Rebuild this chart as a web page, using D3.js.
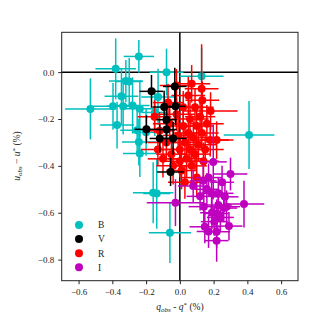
<!DOCTYPE html>
<html>
<head>
  <meta charset="utf-8">
  <script src="https://cdn.jsdelivr.net/npm/d3@7"></script>
  <style>
    body { margin: 0; background: white; }
    text { font-family: 'Liberation Serif', 'DejaVu Serif', serif; fill: #222; }
    .axis path, .axis line { stroke: #222; }
  </style>
</head>
<body>
<svg id="chart" width="324" height="324"></svg>
<script>
// series B
var bX = [-0.53, -0.38, -0.243, -0.079, -0.32, -0.30, -0.346, -0.396, -0.336, -0.28, -0.237, -0.372, -0.253, -0.243, -0.237, -0.129, 0.129, 0.41, -0.158, -0.137, -0.059, -0.2, -0.148];
var bY = [-0.157, 0.014, 0.067, 0.0, -0.038, -0.04, -0.103, -0.146, -0.146, -0.142, -0.156, -0.226, -0.248, -0.298, -0.347, -0.106, -0.018, -0.268, -0.515, -0.518, -0.685, -0.257, -0.172];
var bXErr = [0.15, 0.12, 0.09, 0.1, 0.1, 0.08, 0.1, 0.13, 0.1, 0.1, 0.1, 0.1, 0.1, 0.1, 0.1, 0.1, 0.13, 0.15, 0.12, 0.08, 0.125, 0.08, 0.08];
var bYErr = [0.13, 0.13, 0.07, 0.1, 0.09, 0.1, 0.12, 0.1, 0.12, 0.12, 0.12, 0.1, 0.1, 0.1, 0.1, 0.12, 0.12, 0.145, 0.13, 0.15, 0.13, 0.1, 0.1];

// series V
var vX = [-0.168, -0.03, -0.093, -0.026, -0.079, -0.198, -0.079, -0.119, -0.04, -0.055];
var vY = [-0.082, -0.061, -0.149, -0.146, -0.203, -0.244, -0.245, -0.283, -0.283, -0.426];
var vXErr = [0.07, 0.07, 0.07, 0.06, 0.06, 0.07, 0.06, 0.06, 0.08, 0.08];
var vYErr = [0.07, 0.08, 0.07, 0.08, 0.07, 0.06, 0.07, 0.06, 0.07, 0.06];

// series R
var rX = [0.129, 0.133, 0.182, 0.218, -0.02, -0.15, -0.12, -0.13, -0.1, -0.08, -0.06, -0.05, -0.04, -0.02, -0.01, 0.0, 0.01, 0.02, 0.02, 0.03, 0.04, 0.05, 0.05, 0.06, 0.06, 0.07, 0.08, 0.09, 0.09, 0.10, 0.11, 0.12, 0.13, 0.14, 0.15, 0.16, 0.18, 0.10, 0.03, -0.07, 0.0, 0.07];
var rY = [-0.071, -0.12, -0.166, -0.29, -0.057, -0.19, -0.25, -0.33, -0.37, -0.30, -0.22, -0.35, -0.40, -0.18, -0.27, -0.33, -0.42, -0.15, -0.23, -0.30, -0.37, -0.10, -0.26, -0.20, -0.33, -0.40, -0.28, -0.15, -0.35, -0.23, -0.31, -0.19, -0.26, -0.38, -0.33, -0.22, -0.29, -0.45, -0.47, -0.13, -0.38, -0.05];
var rXErr = [0.1, 0.1, 0.16, 0.1, 0.1, 0.1, 0.09, 0.1, 0.09, 0.11, 0.1, 0.09, 0.1, 0.11, 0.09, 0.1, 0.09, 0.12, 0.1, 0.09, 0.11, 0.1, 0.09, 0.11, 0.1, 0.09, 0.1, 0.11, 0.09, 0.1, 0.11, 0.09, 0.1, 0.09, 0.11, 0.1, 0.11, 0.09, 0.1, 0.09, 0.1, 0.11];
var rYErr = [0.19, 0.08, 0.08, 0.08, 0.07, 0.07, 0.08, 0.07, 0.08, 0.07, 0.08, 0.07, 0.08, 0.07, 0.08, 0.07, 0.08, 0.07, 0.08, 0.07, 0.08, 0.08, 0.07, 0.08, 0.07, 0.08, 0.07, 0.08, 0.07, 0.08, 0.07, 0.08, 0.07, 0.08, 0.07, 0.08, 0.07, 0.08, 0.07, 0.08, 0.07, 0.08];

// series I
var iX = [-0.026, 0.30, 0.38, 0.079, 0.198, 0.138, 0.188, 0.228, 0.267, 0.142, 0.228, 0.277, 0.218, 0.148, 0.291, 0.218, 0.218, 0.204, 0.16, 0.17, 0.25, 0.12, 0.19, 0.24, 0.17, 0.26];
var iY = [-0.557, -0.435, -0.563, -0.486, -0.383, -0.464, -0.517, -0.517, -0.532, -0.574, -0.567, -0.574, -0.603, -0.66, -0.657, -0.681, -0.719, -0.638, -0.50, -0.45, -0.47, -0.53, -0.60, -0.62, -0.68, -0.58];
var iXErr = [0.17, 0.1, 0.12, 0.09, 0.08, 0.08, 0.08, 0.09, 0.08, 0.09, 0.08, 0.08, 0.07, 0.09, 0.08, 0.08, 0.07, 0.08, 0.07, 0.08, 0.07, 0.08, 0.07, 0.08, 0.07, 0.08];
var iYErr = [0.1, 0.07, 0.1, 0.07, 0.16, 0.07, 0.06, 0.07, 0.06, 0.07, 0.06, 0.07, 0.06, 0.07, 0.06, 0.07, 0.09, 0.06, 0.07, 0.06, 0.07, 0.06, 0.07, 0.06, 0.07, 0.06];

var xTicks = [-0.6, -0.4, -0.2, 0.0, 0.2, 0.4, 0.6];
var yTicks = [-0.8, -0.6, -0.4, -0.2, 0.0];
var labels = ['B', 'V', 'R', 'I'];
var colors = ['#00bfbf', '#000000', '#ff0000', '#bf00bf'];

var svg = d3.select('#chart');

var x = d3.scaleLinear().domain([-0.7, 0.7]).range([61.7, 298]);
var y = d3.scaleLinear().domain([-0.89, 0.17]).range([280.7, 32.3]);

var fmt = d => d3.format('.1f')(d).replace('-', '\u2212');

// zero lines
svg.append('line')
  .attr('x1', x(-0.7)).attr('x2', x(0.7))
  .attr('y1', y(0)).attr('y2', y(0))
  .attr('stroke', 'black').attr('stroke-width', 1.5);
svg.append('line')
  .attr('x1', x(0)).attr('x2', x(0))
  .attr('y1', y(-0.89)).attr('y2', y(0.17))
  .attr('stroke', 'black').attr('stroke-width', 1.5);

function series(xs, ys, xe, ye, color) {
  var data = xs.map((v, i) => ({ x: v, y: ys[i], ex: xe[i], ey: ye[i] }));
  var g = svg.append('g');
  g.selectAll('.h').data(data).enter().append('line')
    .attr('x1', d => x(d.x - d.ex)).attr('x2', d => x(d.x + d.ex))
    .attr('y1', d => y(d.y)).attr('y2', d => y(d.y))
    .attr('stroke', color).attr('stroke-width', 1.5);
  g.selectAll('.v').data(data).enter().append('line')
    .attr('x1', d => x(d.x)).attr('x2', d => x(d.x))
    .attr('y1', d => y(d.y - d.ey)).attr('y2', d => y(d.y + d.ey))
    .attr('stroke', color).attr('stroke-width', 1.5);
  g.selectAll('circle').data(data).enter().append('circle')
    .attr('cx', d => x(d.x)).attr('cy', d => y(d.y))
    .attr('r', 4).attr('fill', color);
}

series(bX, bY, bXErr, bYErr, colors[0]);
series(rX, rY, rXErr, rYErr, colors[2]);
series(iX, iY, iXErr, iYErr, colors[3]);
series(vX, vY, vXErr, vYErr, colors[1]);

// frame
svg.append('rect')
  .attr('x', x(-0.7)).attr('y', y(0.17))
  .attr('width', x(0.7) - x(-0.7)).attr('height', y(-0.89) - y(0.17))
  .attr('fill', 'none').attr('stroke', '#222').attr('stroke-width', 1);

var xAxis = svg.append('g')
  .attr('class', 'axis')
  .attr('transform', 'translate(0,' + y(-0.89) + ')')
  .call(d3.axisBottom(x).tickValues(xTicks).tickFormat(fmt).tickSize(3.5).tickPadding(4));
var yAxis = svg.append('g')
  .attr('class', 'axis')
  .attr('transform', 'translate(' + x(-0.7) + ',0)')
  .call(d3.axisLeft(y).tickValues(yTicks).tickFormat(fmt).tickSize(3.5).tickPadding(4));
svg.selectAll('.axis .domain').remove();
svg.selectAll('.axis text')
  .style('font-family', "'Liberation Serif', serif")
  .style('font-size', '9px')
  .attr('fill', '#222');

// axis labels
var xl = svg.append('text')
  .attr('x', 180).attr('y', 310)
  .attr('text-anchor', 'middle')
  .style('font-size', '9.5px');
xl.append('tspan').style('font-style', 'italic').text('q');
xl.append('tspan').style('font-style', 'italic').style('font-size', '7px').attr('dy', 2).text('obs');
xl.append('tspan').attr('dy', -2).text(' - ');
xl.append('tspan').style('font-style', 'italic').text('q');
xl.append('tspan').style('font-size', '7px').attr('dy', -3).text('*');
xl.append('tspan').attr('dy', 3).text(' (%)');

var yl = svg.append('text')
  .attr('transform', 'translate(20,156) rotate(-90)')
  .attr('text-anchor', 'middle')
  .style('font-size', '9.5px');
yl.append('tspan').style('font-style', 'italic').text('u');
yl.append('tspan').style('font-style', 'italic').style('font-size', '7px').attr('dy', 2).text('obs');
yl.append('tspan').attr('dy', -2).text(' \u2212 ');
yl.append('tspan').style('font-style', 'italic').text('u');
yl.append('tspan').style('font-size', '7px').attr('dy', -3).text('*');
yl.append('tspan').attr('dy', 3).text(' (%)');

// legend
var leg = svg.append('g');
labels.forEach(function (l, i) {
  leg.append('circle')
    .attr('cx', 79).attr('cy', 225 + i * 14.1)
    .attr('r', 4).attr('fill', colors[i]);
  leg.append('text')
    .attr('x', 98).attr('y', 225 + i * 14.1 + 3.3)
    .style('font-size', '9.5px')
    .text(l);
});
</script>
</body>
</html>
